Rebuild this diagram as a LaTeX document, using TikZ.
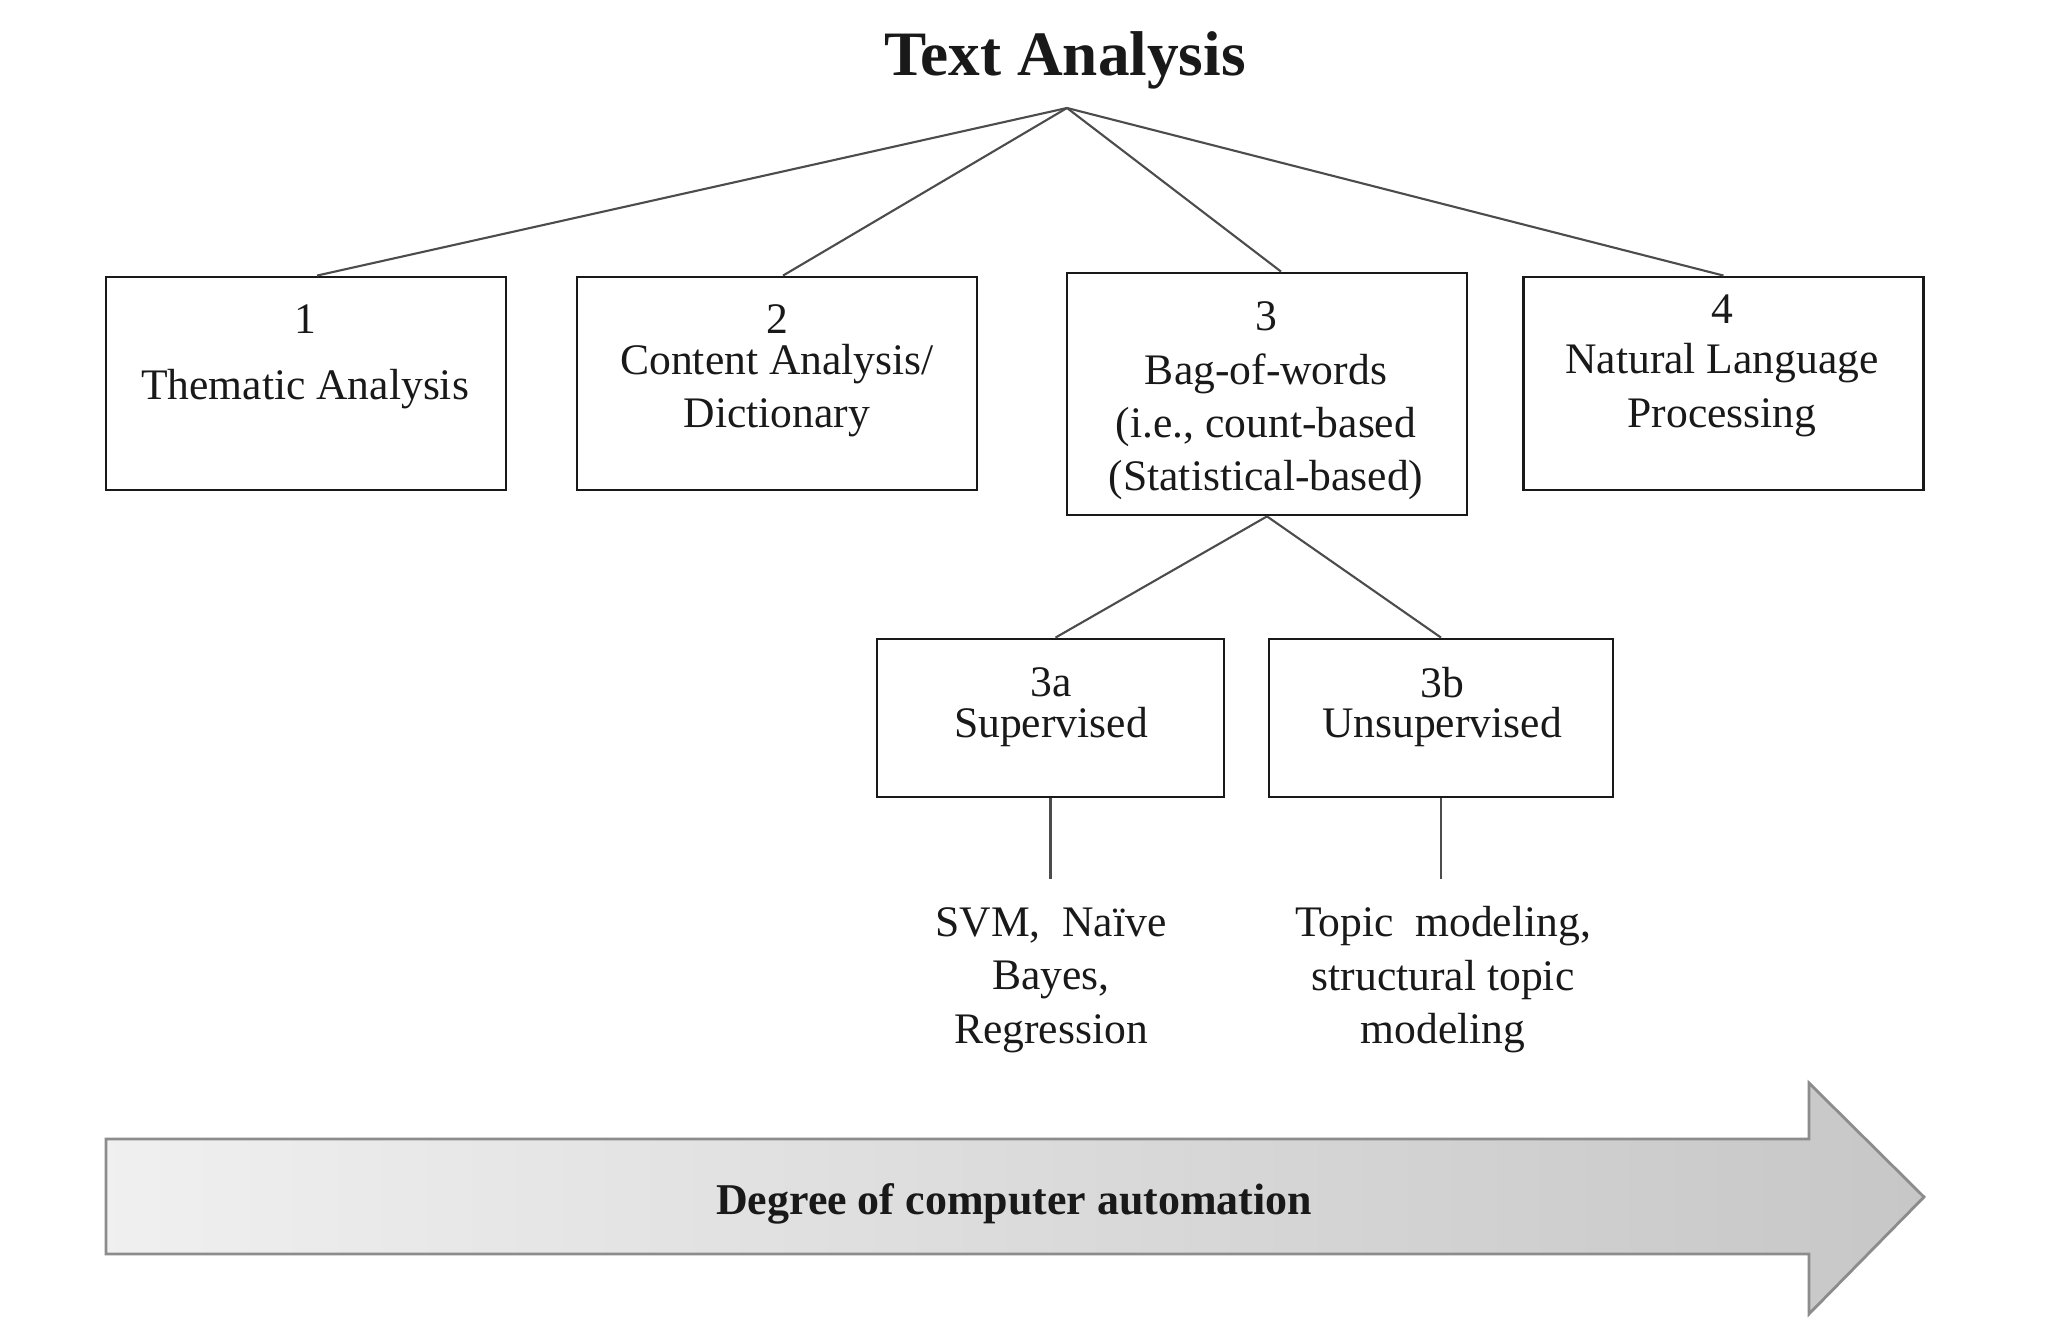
\documentclass[tikz,border=0pt]{standalone}
\usepackage{fontspec}
\setmainfont{Liberation Serif}
\usetikzlibrary{calc}

\tikzset{
  box/.style={draw=black!90, line width=0.8pt, minimum width=4cm, minimum height=2.13cm, inner sep=0pt},
  boxtext/.style={align=center, text=black!90, font=\fontsize{12.4}{15.2}\selectfont},
  link/.style={draw=black!70, line width=0.6pt},
}

\begin{document}
\begin{tikzpicture}[x=0.1mm, y=-0.1mm]
        \useasboundingbox (0, 0) rectangle (2070, 1342);
        % title and apex of the tree
        \node[font=\fontsize{18}{21}\bfseries\selectfont, text=black!90] (title) at (1065, 60) {Text Analysis};
        \coordinate (apex) at (1067, 108);
        % the four approaches
        \node[box] (b1) at (306, 383.5) {};
        \node[box] (b2) at (777, 383.5) {};
        \node[box, minimum height=2.42cm] (b3) at (1267, 394) {};
        \node[box] (b4) at (1723.5, 383.5) {};
        \node[boxtext] (t1) at (305, 357) {1\\[3.6pt]Thematic Analysis};
        \node[boxtext] (t2) at (777, 371) {2\\[-3.5pt]Content Analysis/\\Dictionary};
        \node[boxtext] (t3) at (1266, 401) {3\\Bag-of-words\\(i.e., count-based\\(Statistical-based)};
        \node[boxtext] (t4) at (1722, 366) {4\\[-1pt]Natural Language\\Processing};
        % bag-of-words branches
        \node[box, minimum width=3.47cm, minimum height=1.58cm] (b3a) at (1050.5, 718) {};
        \node[box, minimum width=3.44cm, minimum height=1.58cm] (b3b) at (1441, 718) {};
        \node[boxtext] (t3a) at (1051, 707) {3a\\[-3.6pt]Supervised};
        \node[boxtext] (t3b) at (1442, 707) {3b\\[-3.6pt]Unsupervised};
        \coordinate (e3a) at ($(b3a.south)+(0, 81)$);
        \coordinate (e3b) at ($(b3b.south)+(0, 81)$);
        \node[boxtext] (m3a) at (1051, 980) {SVM,\ \ Naïve\\Bayes,\\Regression};
        \node[boxtext] (m3b) at (1443, 980) {Topic\ \ modeling,\\structural topic\\modeling};
        % connectors
        \draw[link] (apex) -- ($(b1.north)+(11, 0)$);
        \draw[link] (apex) -- ($(b2.north)+(6, 0)$);
        \draw[link] (apex) -- ($(b3.north)+(14, 0)$);
        \draw[link] (apex) -- (b4.north);
        \draw[link] (b3.south) -- ($(b3a.north)+(5, 0)$);
        \draw[link] (b3.south) -- (b3b.north);
        \draw[link] (b3a.south) -- (e3a);
        \draw[link] (b3b.south) -- (e3b);
        % automation arrow
        \shade[left color=black!6, right color=black!22, draw=black!45, line width=0.8pt]
            (106, 1139) -- (1809, 1139) -- (1809, 1083) -- (1924, 1197)
            -- (1809, 1314) -- (1809, 1254) -- (106, 1254) -- cycle;
        \node[font=\fontsize{12.5}{15}\bfseries\selectfont, text=black!90] (auto) at (1014, 1204) {Degree of computer automation};
        %
    \end{tikzpicture}
\end{document}
